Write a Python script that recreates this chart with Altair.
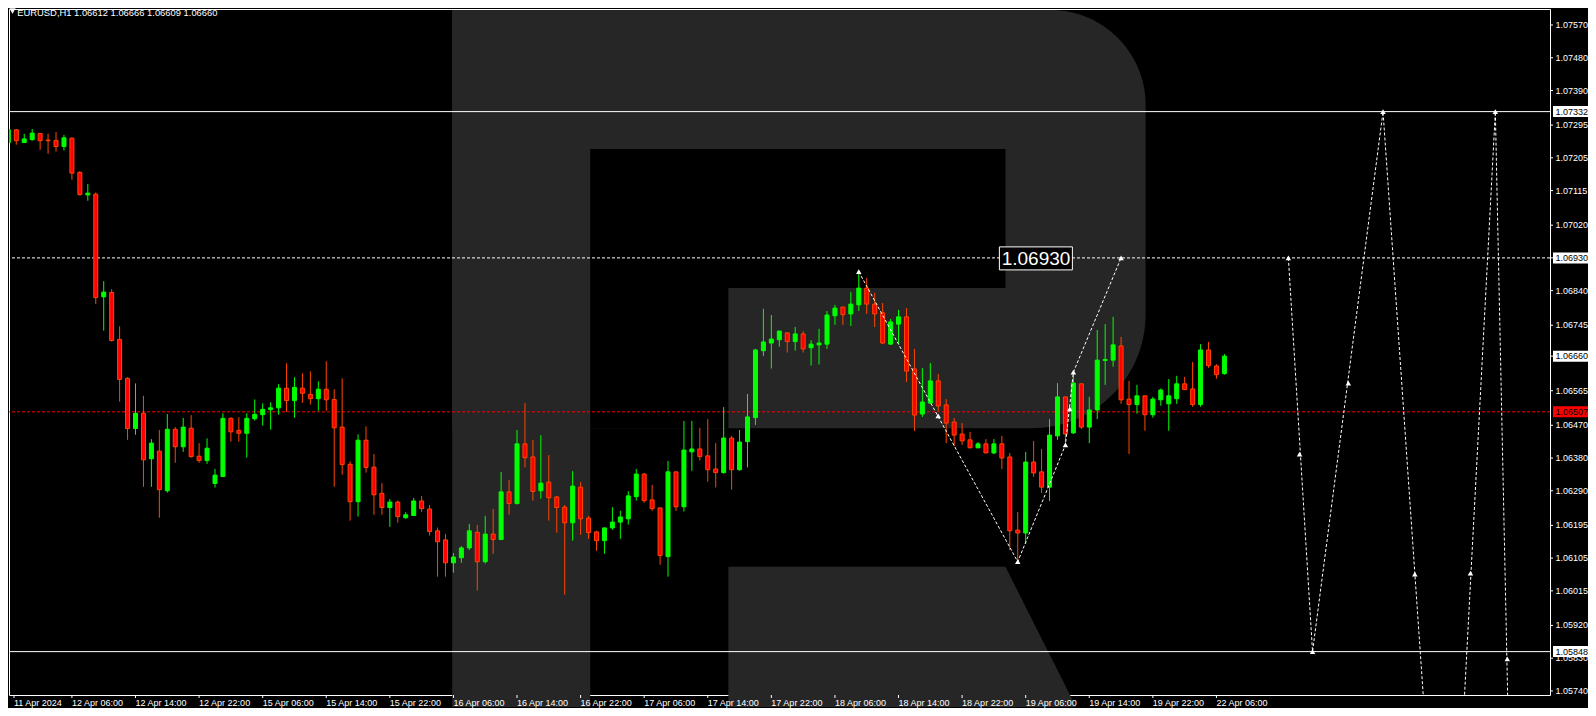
import altair as alt
import pandas as pd

# ---------------- data (EURUSD H1, bar index 0 = 11 Apr 22:00) ----------------
opens = [
    1.07247, 1.07282, 1.07247, 1.07255, 1.07272, 1.07254, 1.07253, 1.07236, 1.07259, 1.07165,
    1.07103, 1.07105, 1.06823, 1.06835, 1.06706, 1.06599, 1.06461, 1.06503, 1.06378, 1.06399,
    1.06290, 1.06459, 1.06411, 1.06462, 1.06385, 1.06373, 1.06310, 1.06329, 1.06489, 1.06456,
    1.06448, 1.06488, 1.06499, 1.06513, 1.06518, 1.06572, 1.06538, 1.06572, 1.06555, 1.06543,
    1.06569, 1.06541, 1.06465, 1.06363, 1.06260, 1.06429, 1.06355, 1.06283, 1.06244, 1.06259,
    1.06216, 1.06222, 1.06262, 1.06240, 1.06180, 1.06155, 1.06092, 1.06106, 1.06133, 1.06176,
    1.06095, 1.06171, 1.06156, 1.06287, 1.06255, 1.06419, 1.06383, 1.06290, 1.06314, 1.06273,
    1.06245, 1.06202, 1.06300, 1.06215, 1.06177, 1.06153, 1.06188, 1.06204, 1.06213, 1.06274,
    1.06336, 1.06265, 1.06243, 1.06109, 1.06342, 1.06246, 1.06397, 1.06405, 1.06386, 1.06350,
    1.06340, 1.06435, 1.06348, 1.06425, 1.06491, 1.06675, 1.06696, 1.06705, 1.06724, 1.06700,
    1.06721, 1.06683, 1.06691, 1.06693, 1.06771, 1.06795, 1.06776, 1.06801, 1.06847, 1.06803,
    1.06779, 1.06693, 1.06748, 1.06768, 1.06625, 1.06501, 1.06531, 1.06592, 1.06526, 1.06479,
    1.06446, 1.06430, 1.06408, 1.06419, 1.06394, 1.06419, 1.06383, 1.06182, 1.06174, 1.06369,
    1.06342, 1.06300, 1.06441, 1.06548, 1.06449, 1.06584, 1.06465, 1.06512, 1.06648, 1.06649,
    1.06688, 1.06542, 1.06527, 1.06551, 1.06499, 1.06540, 1.06529, 1.06543, 1.06584, 1.06570,
    1.06527, 1.06677, 1.06633, 1.06612,
]
highs = [
    1.07314, 1.07284, 1.07271, 1.07284, 1.07272, 1.07271, 1.07276, 1.07268, 1.07261, 1.07168,
    1.07133, 1.07110, 1.06866, 1.06844, 1.06742, 1.06602, 1.06585, 1.06551, 1.06432, 1.06457,
    1.06501, 1.06465, 1.06490, 1.06498, 1.06421, 1.06434, 1.06350, 1.06503, 1.06492, 1.06492,
    1.06503, 1.06541, 1.06530, 1.06533, 1.06583, 1.06640, 1.06602, 1.06613, 1.06618, 1.06591,
    1.06646, 1.06569, 1.06599, 1.06371, 1.06445, 1.06467, 1.06391, 1.06311, 1.06267, 1.06263,
    1.06231, 1.06270, 1.06276, 1.06251, 1.06189, 1.06171, 1.06119, 1.06138, 1.06199, 1.06196,
    1.06221, 1.06240, 1.06342, 1.06320, 1.06457, 1.06531, 1.06430, 1.06443, 1.06388, 1.06276,
    1.06251, 1.06344, 1.06314, 1.06221, 1.06180, 1.06188, 1.06245, 1.06235, 1.06289, 1.06350,
    1.06339, 1.06306, 1.06243, 1.06372, 1.06342, 1.06482, 1.06482, 1.06463, 1.06487, 1.06421,
    1.06520, 1.06441, 1.06457, 1.06556, 1.06680, 1.06790, 1.06773, 1.06729, 1.06724, 1.06740,
    1.06729, 1.06704, 1.06735, 1.06784, 1.06801, 1.06795, 1.06836, 1.06892, 1.06875, 1.06834,
    1.06806, 1.06762, 1.06787, 1.06792, 1.06680, 1.06627, 1.06641, 1.06611, 1.06542, 1.06490,
    1.06476, 1.06452, 1.06424, 1.06432, 1.06432, 1.06441, 1.06394, 1.06232, 1.06397, 1.06427,
    1.06405, 1.06487, 1.06586, 1.06548, 1.06616, 1.06584, 1.06548, 1.06732, 1.06748, 1.06768,
    1.06713, 1.06592, 1.06581, 1.06551, 1.06548, 1.06571, 1.06597, 1.06606, 1.06603, 1.06644,
    1.06693, 1.06699, 1.06638, 1.06666,
]
lows = [
    1.07245, 1.07241, 1.07247, 1.07252, 1.07227, 1.07216, 1.07222, 1.07225, 1.07145, 1.07101,
    1.07087, 1.06803, 1.06730, 1.06700, 1.06535, 1.06430, 1.06444, 1.06301, 1.06301, 1.06216,
    1.06285, 1.06367, 1.06397, 1.06381, 1.06367, 1.06364, 1.06299, 1.06329, 1.06425, 1.06425,
    1.06381, 1.06483, 1.06469, 1.06458, 1.06499, 1.06507, 1.06491, 1.06532, 1.06527, 1.06510,
    1.06510, 1.06301, 1.06334, 1.06208, 1.06219, 1.06340, 1.06224, 1.06224, 1.06191, 1.06202,
    1.06213, 1.06222, 1.06232, 1.06167, 1.06054, 1.06054, 1.06065, 1.06092, 1.06127, 1.06016,
    1.06090, 1.06117, 1.06156, 1.06224, 1.06252, 1.06354, 1.06263, 1.06268, 1.06208, 1.06175,
    1.06005, 1.06153, 1.06169, 1.06158, 1.06125, 1.06117, 1.06183, 1.06158, 1.06197, 1.06263,
    1.06257, 1.06235, 1.06087, 1.06054, 1.06235, 1.06233, 1.06345, 1.06373, 1.06315, 1.06299,
    1.06337, 1.06293, 1.06345, 1.06354, 1.06471, 1.06660, 1.06626, 1.06686, 1.06670, 1.06675,
    1.06670, 1.06634, 1.06637, 1.06680, 1.06746, 1.06746, 1.06743, 1.06784, 1.06776, 1.06740,
    1.06693, 1.06691, 1.06693, 1.06589, 1.06454, 1.06493, 1.06529, 1.06509, 1.06421, 1.06413,
    1.06416, 1.06408, 1.06408, 1.06394, 1.06391, 1.06350, 1.06127, 1.06100, 1.06144, 1.06328,
    1.06284, 1.06262, 1.06430, 1.06413, 1.06446, 1.06460, 1.06421, 1.06487, 1.06581, 1.06631,
    1.06529, 1.06391, 1.06502, 1.06455, 1.06491, 1.06524, 1.06455, 1.06529, 1.06568, 1.06521,
    1.06521, 1.06628, 1.06598, 1.06609,
]
closes = [
    1.07282, 1.07252, 1.07257, 1.07273, 1.07252, 1.07252, 1.07236, 1.07260, 1.07163, 1.07104,
    1.07108, 1.06821, 1.06836, 1.06703, 1.06596, 1.06461, 1.06503, 1.06375, 1.06421, 1.06293,
    1.06459, 1.06411, 1.06465, 1.06384, 1.06373, 1.06407, 1.06333, 1.06489, 1.06452, 1.06448,
    1.06489, 1.06500, 1.06514, 1.06518, 1.06572, 1.06538, 1.06574, 1.06558, 1.06543, 1.06569,
    1.06540, 1.06463, 1.06362, 1.06260, 1.06429, 1.06354, 1.06279, 1.06244, 1.06259, 1.06219,
    1.06224, 1.06262, 1.06241, 1.06178, 1.06150, 1.06092, 1.06108, 1.06133, 1.06180, 1.06095,
    1.06171, 1.06156, 1.06287, 1.06255, 1.06419, 1.06381, 1.06288, 1.06311, 1.06271, 1.06244,
    1.06202, 1.06303, 1.06213, 1.06175, 1.06153, 1.06188, 1.06204, 1.06218, 1.06276, 1.06336,
    1.06263, 1.06241, 1.06112, 1.06342, 1.06246, 1.06402, 1.06405, 1.06384, 1.06348, 1.06340,
    1.06435, 1.06348, 1.06424, 1.06493, 1.06677, 1.06699, 1.06707, 1.06729, 1.06700, 1.06721,
    1.06680, 1.06693, 1.06696, 1.06773, 1.06792, 1.06774, 1.06803, 1.06847, 1.06803, 1.06776,
    1.06696, 1.06754, 1.06768, 1.06619, 1.06498, 1.06534, 1.06592, 1.06523, 1.06476, 1.06443,
    1.06427, 1.06408, 1.06419, 1.06394, 1.06419, 1.06380, 1.06180, 1.06174, 1.06369, 1.06339,
    1.06300, 1.06443, 1.06548, 1.06446, 1.06586, 1.06465, 1.06512, 1.06649, 1.06651, 1.06691,
    1.06540, 1.06527, 1.06551, 1.06499, 1.06542, 1.06567, 1.06551, 1.06584, 1.06568, 1.06527,
    1.06677, 1.06634, 1.06609, 1.06660,
]

tick_bars = [0, 8, 16, 24, 32, 40, 48, 56, 64, 72, 80, 88, 96, 104, 112, 120, 128, 136, 144, 152]
tick_labels = ["11 Apr 2024", "12 Apr 06:00", "12 Apr 14:00", "12 Apr 22:00", "15 Apr 06:00",
               "15 Apr 14:00", "15 Apr 22:00", "16 Apr 06:00", "16 Apr 14:00", "16 Apr 22:00",
               "17 Apr 06:00", "17 Apr 14:00", "17 Apr 22:00", "18 Apr 06:00", "18 Apr 14:00",
               "18 Apr 22:00", "19 Apr 06:00", "19 Apr 14:00", "19 Apr 22:00", "22 Apr 06:00"]
price_ticks = [1.07570, 1.07480, 1.07390, 1.07295, 1.07205, 1.07115, 1.07020, 1.06930, 1.06840,
               1.06745, 1.06660, 1.06565, 1.06470, 1.06380, 1.06290, 1.06195, 1.06105, 1.06015,
               1.05920, 1.05830, 1.05740]

solid_levels = [1.07332, 1.05848]
dashed_levels = [1.06930]
red_levels = [1.06507]

box_prices = [1.07332, 1.06930, 1.06660, 1.05848, 1.06507]
box_colors = ["#ffffff", "#ffffff", "#ffffff", "#ffffff", "#ff0000"]

# forecast paths (bar index, price)
fc_path = ["a", "a", "a", "a", "a", "b", "b", "b", "b", "b", "b"]
fc_bar = [107, 127, 133, 134, 140, 161.05, 164.09, 172.96, 180.96, 187.09, 188.8]
fc_price = [1.06892, 1.06095, 1.06416, 1.06616, 1.06930,
            1.06930, 1.05848, 1.07332, 1.04795, 1.07332, 1.05560]
mk_bar = [107, 116.99, 127, 133, 133.55, 134, 140, 161.05, 162.46, 164.09, 168.59, 172.96,
          176.96, 183.96, 187.09, 188.59]
mk_price = [1.06892, 1.06496, 1.06095, 1.06416, 1.06515, 1.06616, 1.06930, 1.06930, 1.06391,
            1.05848, 1.06586, 1.07332, 1.06061, 1.06064, 1.07332, 1.05828]

label_bar = [134]
label_price = [1.06930]

# watermark logo "R" (bar index / price units)
logo_bowl_x = [55.84, 143.09]
logo_bowl_p = [1.06462, 1.07611]
logo_x0 = [55.84, 73.21, 73.21]
logo_x1 = [73.21, 125.46, 90.59]
logo_p0 = [1.05696, 1.06847, 1.06462]
logo_p1 = [1.07611, 1.07229, 1.06847]
logo_col = ["#262626", "#000000", "#000000"]
leg_x = [90.59, 125.46, 134.34]
leg_lo = [1.05696, 1.05696, 1.05696]
leg_hi = [1.06081, 1.06081, 1.05696]

symbol = "EURUSD,H1"

# ---------------- chart ----------------
W, H = 1541, 686
x_lo, x_hi = 0.7125, 193.3375
p_lo, p_hi = 1.057288, 1.076140
FONT = "Liberation Sans"

xs = alt.Scale(domain=[x_lo, x_hi], nice=False, zero=False)
ys = alt.Scale(domain=[p_lo, p_hi], nice=False, zero=False)


def XQ(field):
    return alt.X(field, type="quantitative", scale=xs, axis=None)


def YQ(field):
    return alt.Y(field, type="quantitative", scale=ys, axis=None)


df = pd.DataFrame({"i": list(range(len(opens))), "open": opens, "high": highs,
                   "low": lows, "close": closes})
df["dir"] = ["up" if c >= o else "down" for o, c in zip(opens, closes)]

fill_scale = alt.Scale(domain=["up", "down"], range=["#00ff00", "#ff0000"])
stroke_scale = alt.Scale(domain=["up", "down"], range=["#00ff00", "#ff4500"])

# logo
bowl = alt.Chart(pd.DataFrame({"x0": [logo_bowl_x[0]], "x1": [logo_bowl_x[1]],
                               "p0": [logo_bowl_p[0]], "p1": [logo_bowl_p[1]]})).mark_rect(
    color="#262626", cornerRadiusTopRight=95, cornerRadiusBottomRight=114, clip=False
).encode(x=XQ("x0"), x2="x1:Q", y=YQ("p1"), y2="p0:Q")

logo_parts = alt.Chart(pd.DataFrame({"x0": logo_x0, "x1": logo_x1, "p0": logo_p0,
                                     "p1": logo_p1, "c": logo_col})).mark_rect(clip=False).encode(
    x=XQ("x0"), x2="x1:Q", y=YQ("p1"), y2="p0:Q", color=alt.Color("c:N", scale=None))

leg = alt.Chart(pd.DataFrame({"x": leg_x, "lo": leg_lo, "hi": leg_hi})).mark_area(
    color="#262626", clip=False).encode(x=XQ("x"), y=YQ("hi"), y2="lo:Q")

# time axis (ticks + labels)
tdf = pd.DataFrame({"b": [max(b, x_lo) for b in tick_bars], "t": tick_labels})
x_ticks = alt.Chart(tdf).mark_rule(color="white", strokeWidth=1, clip=False).encode(
    x=XQ("b"), y=alt.value(H), y2=alt.value(H + 3))
x_labels = alt.Chart(tdf).mark_text(align="left", baseline="top", font=FONT, fontSize=9,
                                    color="white", clip=False).encode(
    x=XQ("b"), y=alt.value(H + 4), text="t:N")

# price axis (ticks + labels)
pdf = pd.DataFrame({"p": price_ticks, "t": ["%.5f" % v for v in price_ticks]})
y_ticks = alt.Chart(pdf).mark_rule(color="white", strokeWidth=1, clip=False).encode(
    x=alt.value(W), x2=alt.value(W + 3), y=YQ("p"))
y_labels = alt.Chart(pdf).mark_text(align="left", baseline="middle", font=FONT, fontSize=9,
                                    color="white", clip=False).encode(
    x=alt.value(W + 5.5), y=YQ("p"), text="t:N")

# level lines
solid = alt.Chart(pd.DataFrame({"p": solid_levels})).mark_rule(
    color="white", strokeWidth=1).encode(y=YQ("p"))
dashed = alt.Chart(pd.DataFrame({"p": dashed_levels})).mark_rule(
    color="white", strokeWidth=1, strokeDash=[3, 2]).encode(y=YQ("p"))
red = alt.Chart(pd.DataFrame({"p": red_levels})).mark_rule(
    color="#ff0000", strokeWidth=1, strokeDash=[3, 2]).encode(y=YQ("p"))

# candles
wicks = alt.Chart(df).mark_rule(strokeWidth=1, clip=True).encode(
    x=XQ("i"), y=YQ("low"), y2="high:Q",
    stroke=alt.Stroke("dir:N", scale=stroke_scale, legend=None))
bodies = alt.Chart(df).mark_bar(size=4, strokeWidth=1, clip=True).encode(
    x=XQ("i"), y=YQ("open"), y2="close:Q",
    fill=alt.Fill("dir:N", scale=fill_scale, legend=None),
    stroke=alt.Stroke("dir:N", scale=stroke_scale, legend=None))

# forecast
fc_df = pd.DataFrame({"path": fc_path, "x": fc_bar, "p": fc_price, "k": list(range(len(fc_bar)))})
fc = alt.Chart(fc_df).mark_line(color="white", strokeWidth=1, strokeDash=[3, 2], clip=True).encode(
    x=XQ("x"), y=YQ("p"), detail="path:N", order="k:Q")
mk = alt.Chart(pd.DataFrame({"x": mk_bar, "p": mk_price})).mark_point(
    shape="triangle-up", filled=True, size=30, color="white", opacity=1, clip=True).encode(
    x=XQ("x"), y=YQ("p"))

# in-chart price label
lab_df = pd.DataFrame({"x": label_bar, "p": label_price,
                       "t": ["%.5f" % v for v in label_price]})
lab_box = alt.Chart(lab_df).mark_rect(fill="black", stroke="white", strokeWidth=1,
                                      xOffset=-74, x2Offset=-1, yOffset=-11, y2Offset=12).encode(
    x=XQ("x"), x2="x:Q", y=YQ("p"), y2="p:Q")
lab_txt = alt.Chart(lab_df).mark_text(align="right", baseline="middle", dx=-3, dy=1,
                                      font=FONT, fontSize=19, color="white").encode(
    x=XQ("x"), y=YQ("p"), text="t:N")

# right-axis price boxes
box_df = pd.DataFrame({"p": box_prices, "c": box_colors, "t": ["%.5f" % v for v in box_prices]})
boxes = alt.Chart(box_df).mark_rect(yOffset=-5.5, y2Offset=5.5).encode(
    x=alt.value(W + 3), x2=alt.value(W + 40), y=YQ("p"), y2="p:Q",
    color=alt.Color("c:N", scale=None))
box_txt = alt.Chart(box_df).mark_text(align="left", baseline="middle", font=FONT, fontSize=9,
                                      color="black").encode(
    x=alt.value(W + 5.5), y=YQ("p"), text="t:N")

# header
head_txt = "%s  %.5f %.5f %.5f %.5f" % (symbol, opens[-1], highs[-1], lows[-1], closes[-1])
header = alt.Chart(pd.DataFrame({"t": [head_txt]})).mark_text(
    align="left", baseline="alphabetic", font=FONT, fontSize=9.4, color="white").encode(
    x=alt.value(8.3), y=alt.value(6.5), text="t:N")
tri = alt.Chart(pd.DataFrame({"t": ["v"]})).mark_point(
    shape="triangle-down", filled=True, size=40, color="white", opacity=1).encode(
    x=alt.value(3.5), y=alt.value(2))

chart = alt.layer(
    bowl, logo_parts, leg, x_ticks, x_labels, y_ticks, y_labels,
    solid, dashed, red, wicks, bodies, fc, mk,
    lab_box, lab_txt, boxes, box_txt, header, tri
).properties(
    width=W, height=H,
    padding={"left": 1, "top": 1, "right": 38, "bottom": 13},
    autosize=alt.AutoSizeParams(type="none"),
    background="#000000",
).configure_view(stroke="white", strokeWidth=1, fill="black")

chart.save("out.html", embed_options={"renderer": "svg", "actions": False})
